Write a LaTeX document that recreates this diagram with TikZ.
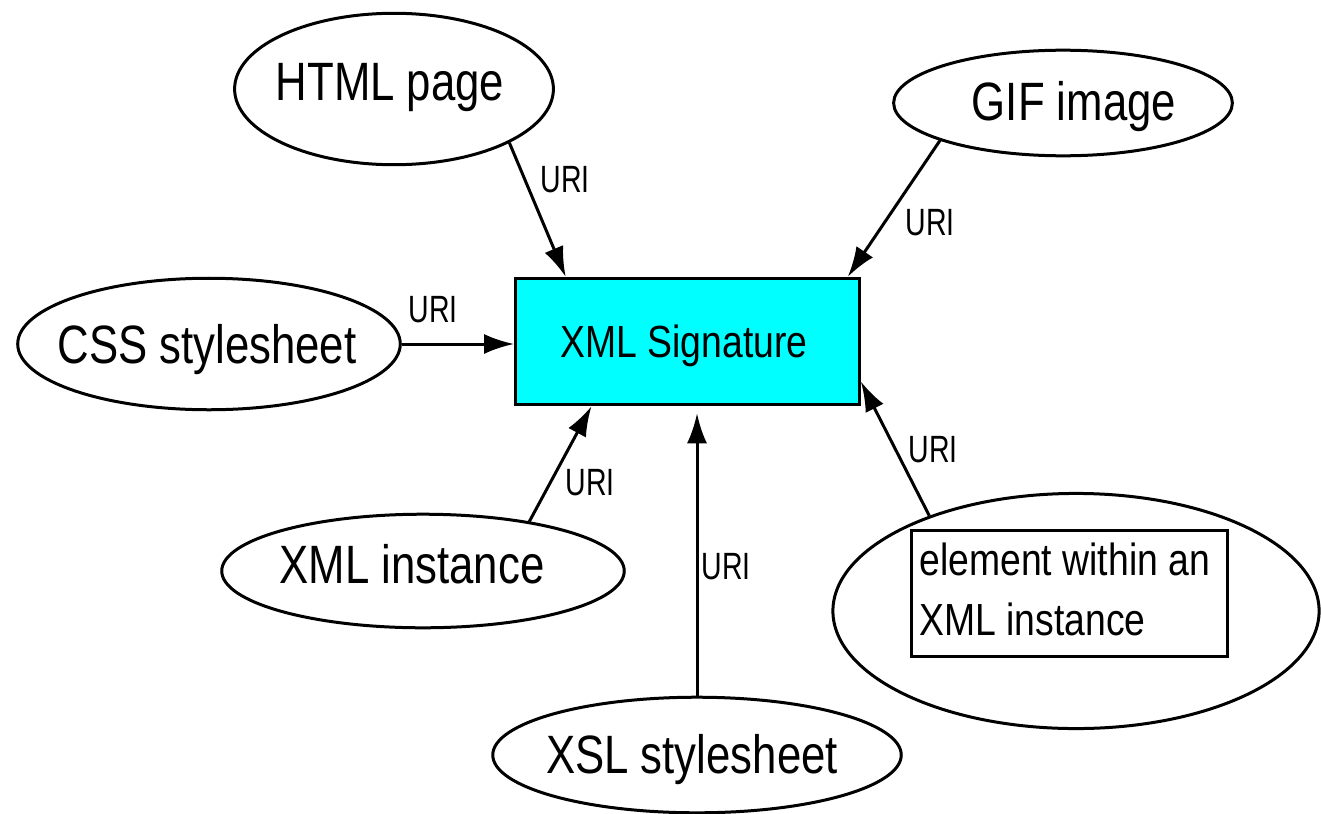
\documentclass[tikz,border=0pt]{standalone}
\usepackage{fontspec}
\setmainfont{Liberation Sans}
\usepackage{graphicx}
\usetikzlibrary{shapes.geometric,arrows.meta}
\definecolor{sigcyan}{RGB}{0,255,255}
\newcommand{\nrw}[2][0.81]{\scalebox{#1}[1]{#2}}

\begin{document}
\begin{tikzpicture}[x=1bp,y=-1bp,line width=3bp,
  oval/.style={draw,ellipse},
  bigtxt/.style={anchor=base,font=\fontsize{54bp}{60bp}\selectfont},
  midtxt/.style={anchor=base,font=\fontsize{45bp}{60bp}\selectfont},
  uritxt/.style={anchor=base,font=\fontsize{38bp}{40bp}\selectfont},
  ref/.style={-{Latex[length=30bp,width=20bp]}}]
\tikzstyle{every node}+=[inner sep=0pt]
\useasboundingbox (0,0) rectangle (1321,813);
\node [draw,fill=sigcyan,minimum width=345,minimum height=127] (sig) at (687.5,341.5) {};
\node [midtxt] (sigtxt) at (684,357) {\nrw[0.83]{XML Signature}};
\node [oval,minimum width=320,minimum height=152] (html) at (394,89) {};
\node [bigtxt] (htmltxt) at (390,100) {\nrw{HTML page}};
\node [oval,minimum width=340,minimum height=106] (gif) at (1063,103) {};
\node [bigtxt] (giftxt) at (1074,120) {\nrw{GIF image}};
\node [oval,minimum width=384,minimum height=132] (css) at (209,344) {};
\node [bigtxt] (csstxt) at (207,363) {\nrw{CSS stylesheet}};
\node [oval,minimum width=404,minimum height=114] (xmli) at (423,571) {};
\node [bigtxt] (xmlitxt) at (412,583) {\nrw{XML instance}};
\node [oval,minimum width=410,minimum height=116] (xsl) at (697,755) {};
\node [bigtxt] (xsltxt) at (692,773) {\nrw{XSL stylesheet}};
\node [oval,minimum width=488,minimum height=236] (elem) at (1076,611) {};
\node [draw,minimum width=317,minimum height=127] (elembox) at (1069.5,593.5) {};
\node [midtxt,anchor=base west] (elemtxt1) at (918,575) {\nrw[0.83]{element within an}};
\node [midtxt,anchor=base west] (elemtxt2) at (918,635) {\nrw[0.83]{XML instance}};
\draw [ref] (html.-25) -- (sig.152);
\node [uritxt] (u1) at (565,192) {\nrw[0.75]{URI}};
\draw [ref] (gif.197) -- (sig.22);
\node [uritxt] (u2) at (930,235) {\nrw[0.75]{URI}};
\draw [ref] (css.east) -- (css.east -| sig.west);
\node [uritxt] (u3) at (433,322) {\nrw[0.75]{URI}};
\draw [ref] (xmli.25) -- (sig.214.5);
\node [uritxt] (u4) at (590,495) {\nrw[0.75]{URI}};
\draw [ref,shorten >=7bp] (xsl.north) -- (xsl.north |- sig.south);
\node [uritxt] (u5) at (726,579) {\nrw[0.75]{URI}};
\draw [ref] (elem.147) -- (sig.-13.4);
\node [uritxt] (u6) at (933,462) {\nrw[0.75]{URI}};
\end{tikzpicture}
\end{document}
